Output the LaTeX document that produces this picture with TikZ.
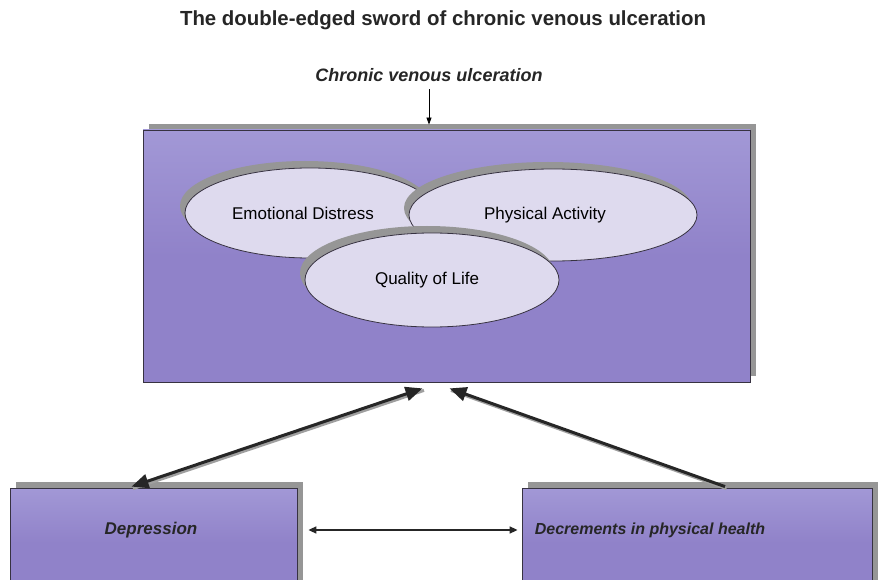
\documentclass[tikz,border=0pt]{standalone}
\usepackage{fontspec}
\setmainfont{Liberation Sans}
\usetikzlibrary{arrows.meta,shapes.geometric,shadows,calc}
\definecolor{boxpurple}{RGB}{144,130,201}
\definecolor{boxtop}{RGB}{162,152,214}
\definecolor{ellfill}{RGB}{222,218,238}
\definecolor{edge}{RGB}{55,50,65}
\definecolor{shade}{RGB}{150,150,150}
\tikzset{
  panel/.style={draw=edge, line width=0.8pt, top color=boxtop, bottom color=boxpurple,
    middle color=boxpurple, inner sep=0pt,
    general shadow={fill=shade, shadow xshift=6pt, shadow yshift=6pt}},
  oval/.style={ellipse, draw=edge, line width=0.8pt, fill=ellfill, inner sep=0pt,
    font=\fontsize{17}{20}\selectfont,
    general shadow={fill=shade, shadow xshift=-5pt, shadow yshift=7pt}},
  boxtext/.style={font=\fontsize{17}{20}\selectfont\bfseries\itshape, text=black!85},
  bigarrow/.style={line width=3pt, draw=black!85},
  arrowshade/.style={line width=3pt, draw=gray!75, transform canvas={xshift=1.5pt,yshift=-2pt}},
  bigtip/.tip={Triangle[length=17pt,width=14pt]},
}
\begin{document}
\begin{tikzpicture}[x=1pt,y=-1pt]
\useasboundingbox (0,0) rectangle (881,580);
\clip (0,0) rectangle (881,580);
\fill[white] (0,0) rectangle (881,580);

% titles
\node[font=\fontsize{20.4}{24}\selectfont\bfseries, text=black!85] (title) at (443,20)
  {The double-edged sword of chronic venous ulceration};
\node[font=\fontsize{18}{22}\selectfont\bfseries\itshape, text=black!85] (sub) at (429,75)
  {Chronic venous ulceration};

% main panel
\node[panel, minimum width=607pt, minimum height=252pt] (box) at (446.5,256) {};

% ellipses
\node[oval, minimum width=250pt, minimum height=90pt] (emo) at (310,213) {\hspace*{-14pt}Emotional Distress};
\node[oval, minimum width=288pt, minimum height=92pt] (phys) at (553,215) {\hspace*{-16pt}Physical Activity};
\node[oval, minimum width=254pt, minimum height=94pt] (qol) at (432,280) {\hspace*{-10pt}Quality of Life};

% bottom boxes
\node[panel, minimum width=287pt, minimum height=110pt] (dep) at (153.5,543) {};
\node[panel, minimum width=350pt, minimum height=110pt] (dec) at (697,543) {};
\node[boxtext] (deptext) at (151,530) {Depression};
\node[boxtext, font=\fontsize{16}{19}\selectfont\bfseries\itshape] (dectext) at (650,530) {Decrements in physical health};

% top arrow
\draw[line width=0.8pt, -{Triangle[length=7pt,width=5pt]}] ([yshift=-4pt]sub.south) -- ([yshift=5pt]box.north -| sub.south);

% double arrow between bottom boxes
\draw[line width=1.6pt, black!85, {Triangle[length=8pt,width=7pt]}-{Triangle[length=8pt,width=7pt]}]
  ([xshift=11pt]dep.east |- deptext.center) -- ([xshift=-4pt]dec.west |- deptext.center);

% big arrows (shadows first)
\draw[arrowshade] ([xshift=-24pt,yshift=-6pt]box.south) -- ([xshift=-22pt,yshift=1pt]dep.north);
\draw[arrowshade] ([xshift=28pt,yshift=1pt]dec.north) -- ([xshift=3pt,yshift=-6pt]box.south);
\draw[bigarrow, bigtip-bigtip] ([xshift=-24pt,yshift=-6pt]box.south) -- ([xshift=-22pt,yshift=1pt]dep.north);
\draw[bigarrow, -bigtip] ([xshift=28pt,yshift=1pt]dec.north) -- ([xshift=3pt,yshift=-6pt]box.south);
\end{tikzpicture}
\end{document}
